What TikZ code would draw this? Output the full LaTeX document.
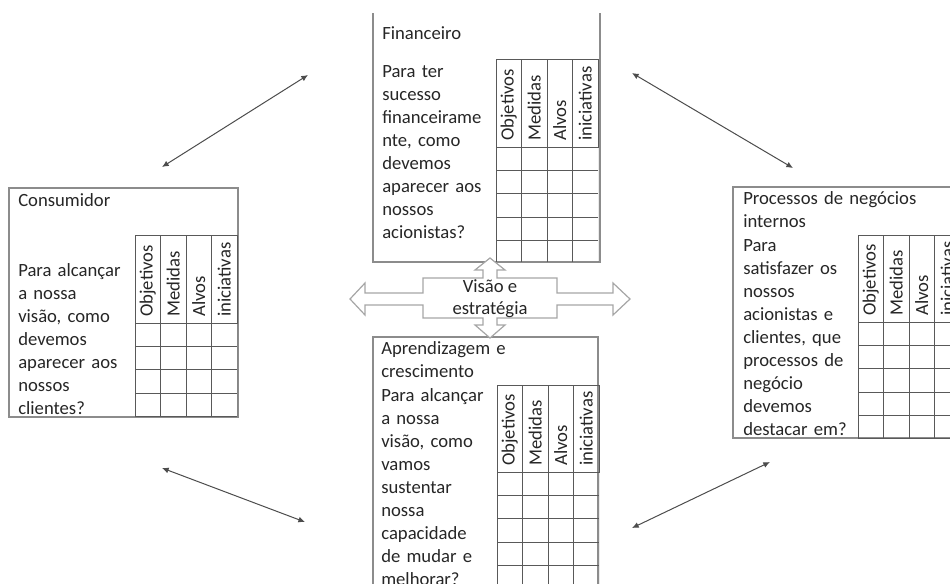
\documentclass[tikz,border=0pt]{standalone}
\usepackage{fontspec}
\setmainfont{Carlito}
\usetikzlibrary{arrows.meta, fit}

\definecolor{boxgray}{HTML}{8C8C8C}
\definecolor{linegray}{HTML}{595959}
\definecolor{txtgray}{HTML}{262626}

\begin{document}
\begin{tikzpicture}[x=0.75pt, y=-0.75pt,
        box/.style = {draw=boxgray, line width=0.8pt, inner sep=0pt},
        txtblock/.style = {anchor=base west, inner sep=0pt, text width=200pt, align=left, text=txtgray, font=\fontsize{14}{17.25}\selectfont},
        head/.style = {rotate=90, anchor=west, inner sep=0pt, text=txtgray, font=\fontsize{14}{17}\selectfont},
        tabline/.style = {draw=linegray, line width=0.6pt},
        link/.style = {draw=black!70, line width=0.75pt, {Latex[length=5pt,width=4.5pt]}-{Latex[length=5pt,width=4.5pt]}},
        bigarrow/.style = {draw=black!35, line width=0.9pt, fill=white}]
    \useasboundingbox (0, 0) rectangle (950, 583);
    \clip (0, 13) rectangle (950, 583);

    \node[box, fit={(373, -20) (600, 262)}] (fin) {};
    \node[box, fit={(9, 188) (238, 417)}] (cons) {};
    \node[box, fit={(733, 187) (1000, 438)}] (proc) {};
    \node[box, fit={(373, 337) (598, 620)}] (apr) {};

    \foreach \colx/\topy/\heady/\boty in {496/59/147/262, 135/235/323/417, 858/235/322/438, 497/385/472/620} {
        \foreach \name [count=\i from 0] in {Objetivos, Medidas, Alvos, iniciativas} {
            \draw[tabline] (\colx+25.5*\i, \topy) rectangle ++(25.5, \heady-\topy);
            \node[head] (h-\colx-\i) at (\colx+25.5*\i+12.75, \heady-6) {\name};
        }
        \begin{scope}
            \clip (\colx, \heady) rectangle (\colx+102, \boty);
            \foreach \k in {1,...,6}
                \draw[tabline] (\colx, \heady+23.3*\k) -- ++(102, 0);
            \foreach \j in {0,...,4}
                \draw[tabline] (\colx+25.5*\j, \heady) -- (\colx+25.5*\j, \boty);
        \end{scope}
    }

    \node[txtblock] at (382, 39) (finT) {Financeiro};
    \node[txtblock] at (382, 77) (finQ) {Para ter\\sucesso\\financeirame\\nte, como\\devemos\\aparecer aos\\nossos\\acionistas?};
    \node[txtblock] at (18, 206) (consT) {Consumidor};
    \node[txtblock] at (18, 276) (consQ) {Para alcançar\\a nossa\\visão, como\\devemos\\aparecer aos\\nossos\\clientes?};
    \node[txtblock] at (743, 204) (procT) {Processos de negócios\\internos};
    \node[txtblock] at (743, 251) (procQ) {Para\\satisfazer os\\nossos\\acionistas e\\clientes, que\\processos de\\negócio\\devemos\\destacar em?};
    \node[txtblock] at (381, 354) (aprT) {Aprendizagem e\\crescimento};
    \node[txtblock] at (381, 401) (aprQ) {Para alcançar\\a nossa\\visão, como\\vamos\\sustentar\\nossa\\capacidade\\de mudar e\\melhorar?};

    \draw[bigarrow] (490, 258) -- (505, 270) -- (497, 270) -- (497, 278) -- (557, 278) -- (557, 293)
        -- (613, 293) -- (613, 283) -- (630, 299) -- (613, 315) -- (613, 305) -- (557, 305) -- (557, 318)
        -- (497, 318) -- (497, 325) -- (505, 325) -- (490, 338) -- (475, 325) -- (483, 325) -- (483, 318)
        -- (423, 318) -- (423, 305) -- (365, 305) -- (365, 315) -- (350, 299) -- (365, 283) -- (365, 293)
        -- (423, 293) -- (423, 278) -- (483, 278) -- (483, 270) -- (475, 270) -- cycle;
    \node[align=center, inner sep=0pt, text=txtgray, font=\fontsize{14}{16.5}\selectfont] at (490, 299) (vis) {Visão e\\estratégia};

    \coordinate (tlA) at (308, 75);
    \coordinate (tlB) at (162, 167);
    \coordinate (trA) at (632, 73);
    \coordinate (trB) at (793, 168);
    \coordinate (blA) at (162, 468);
    \coordinate (blB) at (305, 522);
    \coordinate (brA) at (632, 528);
    \coordinate (brB) at (770, 462);

    \draw[link] (tlA) -- (tlB);
    \draw[link] (trA) -- (trB);
    \draw[link] (blA) -- (blB);
    \draw[link] (brA) -- (brB);
\end{tikzpicture}
\end{document}
